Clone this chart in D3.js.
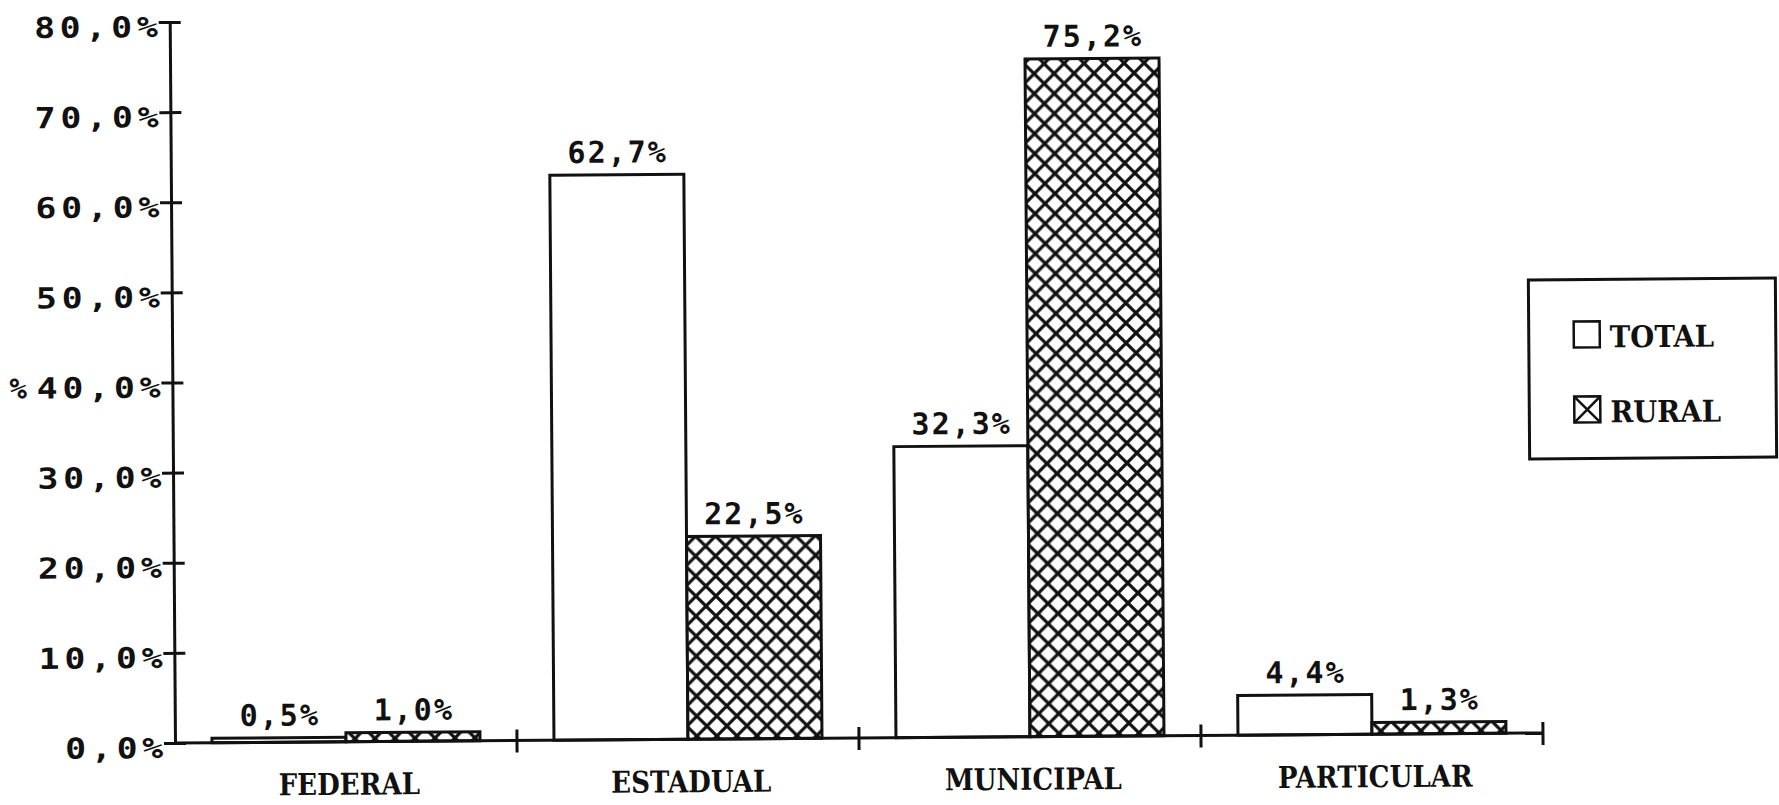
<!DOCTYPE html>
<html>
<head>
<meta charset="utf-8">
<script src="https://cdn.jsdelivr.net/npm/d3@7"></script>
<style>
  html, body { margin: 0; padding: 0; background: #fff; }
  svg { display: block; }
  .num { font-family: "DejaVu Sans Mono", monospace; font-weight: bold; fill: #111; }
  .cat { font-family: "DejaVu Serif", serif; font-weight: bold; font-size: 30px; fill: #111; }
</style>
</head>
<body>
<div id="chart"></div>
<script>
const width = 1779;
const height = 805;

// data
const categories = ["FEDERAL", "ESTADUAL", "MUNICIPAL", "PARTICULAR"];
const series = ["TOTAL", "RURAL"];
const totalValues = [0.5, 62.7, 32.3, 4.4];
const ruralValues = [1.0, 22.5, 75.2, 1.3];
const yTicks = [0, 10, 20, 30, 40, 50, 60, 70, 80];

const fmt = v => d3.format(".1f")(v).replace(".", ",") + "%";

const svg = d3.select("#chart").append("svg")
  .attr("width", width)
  .attr("height", height);

// crosshatch pattern for RURAL
const cell = 20;
const defs = svg.append("defs");
const pat = defs.append("pattern")
  .attr("id", "hatch")
  .attr("patternUnits", "userSpaceOnUse")
  .attr("width", cell)
  .attr("height", cell);
pat.append("rect").attr("width", cell).attr("height", cell).attr("fill", "#fff");
pat.append("path")
  .attr("d", `M-3,-3L${cell + 3},${cell + 3}M${cell + 3},-3L-3,${cell + 3}`)
  .attr("stroke", "#111")
  .attr("stroke-width", 3.2);

const x0 = 175, y0 = 743;

// the scan is slightly tilted
const g = svg.append("g")
  .attr("transform", `rotate(-0.42, ${x0}, ${y0})`);

const y = d3.scaleLinear().domain([0, 80]).range([y0, 22]);
const x = d3.scaleBand().domain(categories).range([x0, 1543]);
const xs = d3.scaleBand().domain(series).range([0, x.step()]).paddingOuter(0.276);

const rows = categories.map((c, i) => ({cat: c, values: [
  {key: "TOTAL", value: totalValues[i]},
  {key: "RURAL", value: ruralValues[i]}
]}));

// bars
const groups = g.selectAll(".grp").data(rows).enter().append("g")
  .attr("transform", d => `translate(${x(d.cat)},0)`);

groups.selectAll("rect").data(d => d.values).enter().append("rect")
  .attr("x", d => xs(d.key))
  .attr("y", d => y(d.value))
  .attr("width", xs.bandwidth())
  .attr("height", d => y0 - y(d.value))
  .attr("fill", d => d.key == "TOTAL" ? "#fff" : "url(#hatch)")
  .attr("stroke", "#111")
  .attr("stroke-width", 3);

groups.selectAll("text").data(d => d.values).enter().append("text")
  .attr("class", "num")
  .attr("x", d => xs(d.key) + xs.bandwidth() / 2 + 1)
  .attr("y", d => y(d.value) - 12)
  .attr("text-anchor", "middle")
  .style("font-size", "30px")
  .style("letter-spacing", "2px")
  .text(d => fmt(d.value));

// y axis
const yAxis = g.append("g")
  .attr("transform", `translate(${x0},0)`)
  .call(d3.axisLeft(y).tickValues(yTicks).tickSizeOuter(0).tickFormat(fmt));
yAxis.select(".domain").attr("stroke", "#111").attr("stroke-width", 3);
yAxis.selectAll(".tick line").attr("x1", -11).attr("x2", 11)
  .attr("stroke", "#111").attr("stroke-width", 3);
yAxis.selectAll(".tick text")
  .attr("class", "num")
  .attr("x", -7 / 1.2)
  .attr("dy", "0.5em")
  .attr("transform", "scale(1.2,1)")
  .style("font-size", "29px")
  .style("letter-spacing", "4px");

g.append("text")
  .attr("class", "num")
  .attr("transform", `translate(12,${y(40) + 15})`)
  .style("font-size", "29px")
  .text("%");

// x axis
g.append("line")
  .attr("x1", x0).attr("x2", x.range()[1])
  .attr("y1", y0).attr("y2", y0)
  .attr("stroke", "#111").attr("stroke-width", 3);

g.selectAll(".xtick").data(categories).enter().append("line")
  .attr("x1", d => x(d) + x.step()).attr("x2", d => x(d) + x.step())
  .attr("y1", y0 - 11).attr("y2", y0 + 12)
  .attr("stroke", "#111").attr("stroke-width", 3);

g.selectAll(".xlab").data(categories).enter().append("text")
  .attr("class", "cat")
  .attr("text-anchor", "middle")
  .attr("transform", d => `translate(${x(d) + x.step() / 2 + 3},${y0 + 53}) scale(0.87,1)`)
  .text(d => d);

// legend (already in page coords)
const leg = svg.append("g").attr("transform", "translate(1529,279) rotate(-0.42,123,90)");
leg.append("rect")
  .attr("width", 247).attr("height", 179)
  .attr("fill", "#fff").attr("stroke", "#111").attr("stroke-width", 3);

const li = leg.selectAll(".li").data(series).enter().append("g")
  .attr("transform", (d, i) => `translate(45,${42 + i * 75})`);
li.append("rect")
  .attr("width", 26).attr("height", 26)
  .attr("fill", "#fff").attr("stroke", "#111").attr("stroke-width", 2.5);
li.filter(d => d == "RURAL").append("path")
  .attr("d", "M0,0L26,26M26,0L0,26")
  .attr("stroke", "#111").attr("stroke-width", 2.5);
li.append("text")
  .attr("class", "cat")
  .attr("transform", "translate(36,26) scale(0.92,1)")
  .text(d => d);
</script>
</body>
</html>
